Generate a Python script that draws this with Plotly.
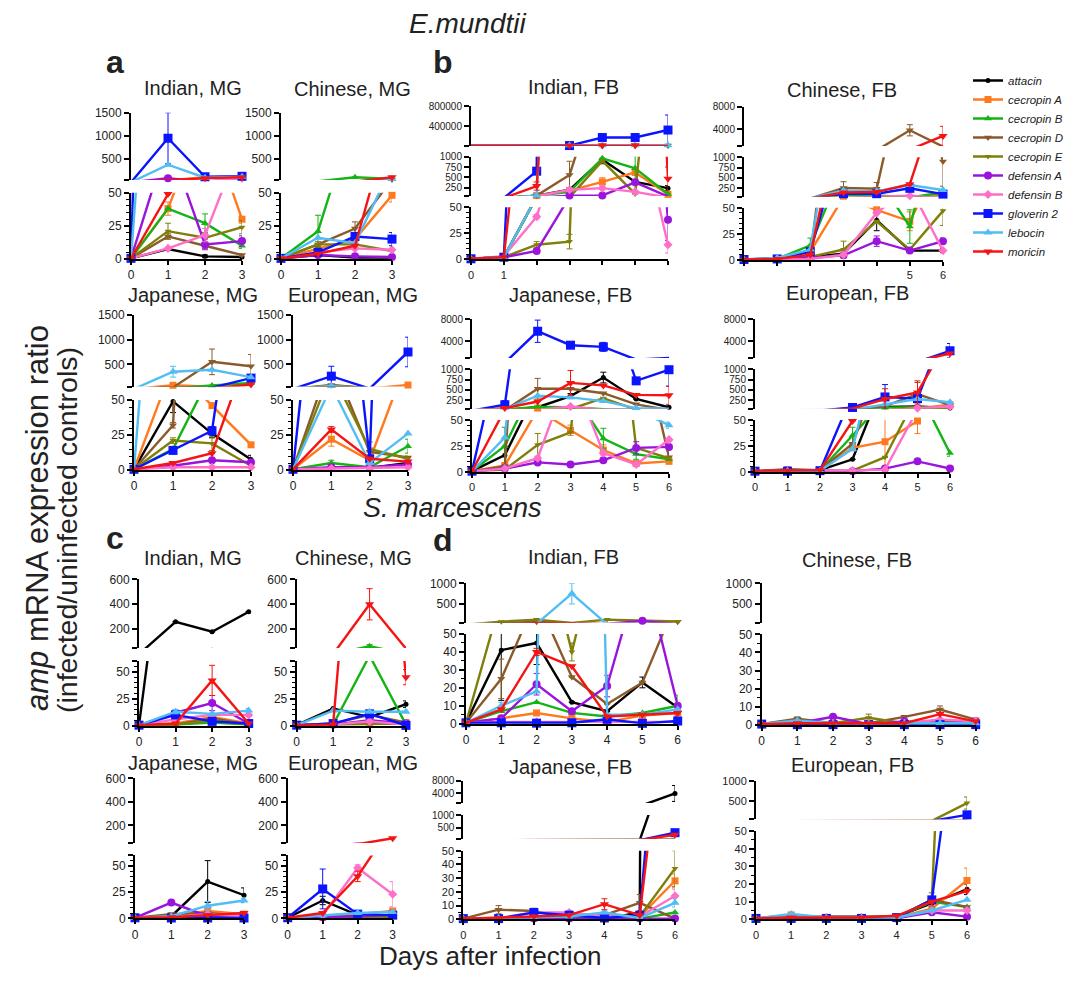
import plotly.graph_objects as go

# the page puts the figure 8 px in from the top-left corner of the window
OFF = 8
FW, FH = 1078 - OFF, 984 - OFF
FONT = "Liberation Sans, Arial, sans-serif"


def fx(px):
    return (px - OFF) / FW


def fy(py):
    return 1 - (py - OFF) / FH


GENES = ["attacin", "cecropin A", "cecropin B", "cecropin D", "cecropin E",
         "defensin A", "defensin B", "gloverin 2", "lebocin", "moricin"]
COLORS = ["#000000", "#FF7A1F", "#14B414", "#8B5A2B", "#7F7F0A",
          "#9A14DC", "#FF6EC8", "#0A14FF", "#52BDF5", "#F51414"]
SYMBOLS = ["circle", "square", "triangle-up", "triangle-down", "triangle-down",
           "circle", "diamond", "square", "triangle-up", "triangle-down"]
MSIZE = [5, 7, 7, 7, 6, 8, 7, 9, 8, 8]

DAYS_MG = [0, 1, 2, 3]
DAYS_FB = [0, 1, 2, 3, 4, 5, 6]

# ---------------- E. mundtii ----------------
EM_IND_MG = [[0.5, 7.5, 2, 1.5], [0.5, 38, 110, 30], [0.5, 38, 27, 10], [0.5, 17, 10, 3],
             [0.5, 21, 16, 24], [0.5, 90, 11, 13.5], [0.5, 8, 18, 90], [0.5, 950, 120, 130],
             [0.5, 380, 100, 120], [0.5, 49, 90, 110]]
EM_IND_MG_ERR = [[0, 1, 1, 0.5], [0, 5, 10, 3], [0, 0, 7, 2], [0, 2, 2, 1], [0, 6, 3, 5],
                 [0, 0, 4, 4], [0, 0, 5, 0], [0, 550, 0, 0], [0, 0, 0, 0], [0, 0, 0, 0]]
EM_CHI_MG = [[0.5, 3, 1, 1], [0.5, 8, 15, 48], [0.5, 21, 110, 75], [0.5, 11, 23, 60],
             [0.5, 11, 11, 6], [0.5, 3, 2, 1.5], [0.5, 5, 8, 7], [0.5, 5, 17, 15],
             [0.5, 16, 12, 70], [0.5, 4, 10, 110]]
EM_CHI_MG_ERR = [[0, 0, 0, 0], [0, 3, 3, 5], [0, 12, 0, 0], [0, 2, 5, 0], [0, 0, 0, 0],
                 [0, 0, 0, 0], [0, 0, 0, 0], [0, 0, 3, 5], [0, 0, 0, 0], [0, 0, 0, 0]]
EM_JAP_MG = [[0.5, 49, 26, 7.5], [0.5, 75, 46, 18], [0.5, 15, 70, 120], [0.5, 32, 550, 460],
             [0.5, 21, 19, 3], [0.5, 3, 7, 5.5], [0.5, 2, 2, 2], [0.5, 14, 28, 220],
             [0.5, 350, 390, 240], [0.5, 5, 12, 90]]
EM_JAP_MG_ERR = [[0, 8, 3, 3], [0, 0, 0, 0], [0, 0, 0, 0], [0, 2, 260, 240], [0, 2, 5, 0],
                 [0, 0, 0, 0], [0, 0, 0, 0], [0, 2, 3, 0], [0, 110, 0, 0], [0, 0, 0, 0]]
EM_EUR_MG = [[0.5, 1.5, 1.5, 5], [0.5, 22, 7, 80], [0.5, 5, 2, 17], [0.5, 80, 13, 9],
             [0.5, 70, 15, 8], [0.5, 2, 2, 4], [0.5, 1, 1, 2], [0.5, 260, 8, 750],
             [0.5, 60, 5, 26], [0.5, 29, 8, 6]]
EM_EUR_MG_ERR = [[0, 0, 0, 0], [0, 5, 0, 0], [0, 2, 0, 5], [0, 0, 0, 0], [0, 0, 5, 2],
                 [0, 0, 0, 0], [0, 0, 0, 0], [0, 200, 0, 300], [0, 0, 0, 0], [0, 2, 0, 0]]

EM_IND_FB = [[0.5, 2, 60, 200, 930, 390, 240], [0.5, 2, 60, 180, 390, 620, 90],
             [0.5, 2, 60, 150, 960, 720, 100], [0.5, 2, 60, 560, 3000, 9000, 10000],
             [0.5, 2, 14, 17, 900, 100, 8000], [0.5, 2, 8, 60, 65, 380, 38],
             [0.5, 3, 41, 200, 240, 150, 14], [0.5, 2, 650, 10000, 170000, 170000, 320000],
             [0.5, 2, 60, 15000, 15000, 15000, 15000], [0.5, 2, 290, 12000, 15000, 15000, 470]]
EM_IND_FB_ERR = [[0, 0, 0, 30, 100, 50, 60], [0, 0, 0, 0, 100, 60, 0], [0, 0, 0, 0, 0, 300, 0],
                 [0, 0, 0, 330, 0, 0, 0], [0, 0, 3, 7, 0, 0, 0], [0, 0, 2, 0, 0, 0, 20],
                 [0, 0, 2, 0, 0, 0, 8], [0, 0, 0, 0, 60000, 70000, 300000],
                 [0, 0, 0, 0, 0, 0, 0], [0, 0, 100, 0, 0, 0, 280]]
EM_CHI_FB = [[0.5, 2, 3, 6, 38, 9, 9], [0.5, 1, 8, 60, 48, 37, 100],
             [0.5, 1, 14, 90, 80, 32, 150], [0.5, 1, 3, 260, 240, 3800, 900],
             [0.5, 1, 3, 10, 37, 10, 47], [0.5, 1, 2, 4.5, 18, 9, 18],
             [0.5, 1, 1, 5, 45, 70, 9], [0.5, 1, 8, 120, 120, 250, 110],
             [0.5, 2, 10, 200, 180, 330, 210], [0.5, 1, 5, 150, 160, 350, 2800]]
EM_CHI_FB_ERR = [[0, 0, 0, 0, 10, 2, 2], [0, 0, 0, 0, 0, 9, 0], [0, 0, 7, 0, 0, 16, 0],
                 [0, 0, 0, 150, 150, 1000, 600], [0, 0, 0, 8, 0, 0, 14], [0, 0, 0, 0, 5, 0, 3],
                 [0, 0, 0, 0, 0, 0, 0], [0, 0, 0, 0, 0, 60, 0], [0, 0, 0, 0, 0, 0, 0],
                 [0, 0, 0, 0, 0, 0, 1700]]
EM_JAP_FB = [[0.5, 16, 80, 350, 800, 280, 80], [0.5, 6, 60, 40, 21, 8, 10],
             [0.5, 25, 90, 80, 32, 17, 12], [0.5, 5, 530, 530, 420, 150, 14],
             [0.5, 2, 26, 38, 300, 23, 13], [0.5, 3, 9, 7, 11, 23, 24],
             [0.5, 3, 13, 100, 18, 7, 31], [0.5, 140, 5800, 3300, 3000, 720, 990],
             [0.5, 33, 360, 320, 230, 60, 45], [0.5, 60, 220, 670, 610, 380, 370]]
EM_JAP_FB_ERR = [[0, 8, 0, 60, 130, 0, 0], [0, 2, 0, 5, 5, 0, 2], [0, 18, 0, 0, 10, 5, 0],
                 [0, 0, 250, 0, 0, 0, 0], [0, 0, 11, 0, 0, 0, 0], [0, 0, 2, 2, 0, 6, 0],
                 [0, 0, 0, 0, 0, 0, 0], [0, 100, 2000, 0, 800, 0, 400], [0, 0, 0, 0, 0, 0, 3],
                 [0, 0, 0, 300, 0, 0, 220]]
EM_EUR_FB = [[0.5, 1.5, 1.5, 12, 90, 100, 60], [0.5, 2, 1, 23, 29, 49, 140],
             [0.5, 1, 1, 35, 70, 80, 18], [0.5, 2.5, 1.5, 27, 110, 400, 130],
             [0.5, 1, 1, 1, 14, 75, 60], [0.5, 1, 1, 0.5, 3, 10, 3],
             [0.5, 1, 1, 1, 2, 60, 100], [0.5, 0.5, 1, 75, 330, 290, 2300],
             [0.5, 1, 1, 22, 150, 280, 200], [0.5, 1, 1.5, 49, 280, 440, 1800]]
EM_EUR_FB_ERR = [[0, 0, 0, 0, 0, 0, 0], [0, 0, 0, 0, 29, 12, 0], [0, 0, 0, 8, 0, 0, 3],
                 [0, 0, 0, 0, 0, 280, 0], [0, 0, 0, 0, 0, 0, 0], [0, 0, 0, 0, 0, 0, 0],
                 [0, 0, 0, 0, 0, 0, 0], [0, 0, 0, 0, 300, 0, 1300], [0, 0, 0, 0, 0, 0, 0],
                 [0, 0, 0, 0, 250, 280, 0]]

# ---------------- S. marcescens ----------------
SM_IND_MG = [[0.5, 260, 180, 340], [0.5, 2, 8, 2], [0.5, 1, 3, 1], [0.5, 1, 7, 1],
             [0.5, 1, 5, 1], [0.5, 12, 21, 2], [0.5, 6, 10, 10], [0.5, 10, 4, 2],
             [0.5, 13, 11, 14], [0.5, 2, 42, 2]]
SM_IND_MG_ERR = [[0, 0, 0, 0], [0, 0, 0, 0], [0, 0, 0, 0], [0, 0, 0, 0], [0, 0, 0, 0],
                 [0, 2, 7, 0], [0, 0, 0, 0], [0, 0, 0, 0], [0, 2, 0, 2], [0, 0, 14, 0]]
SM_CHI_MG = [[0.5, 16, 8, 20], [0.5, 1, 3, 3], [0.5, 1, 65, 1], [0.5, 2, 10, 3],
             [0.5, 1, 2, 2], [0.5, 1, 5, 2], [0.5, 1, 4, 1], [0.5, 2, 11, 0.3],
             [0.5, 14, 13, 13], [0.5, 1, 400, 45]]
SM_CHI_MG_ERR = [[0, 0, 0, 3], [0, 0, 0, 0], [0, 0, 12, 0], [0, 0, 0, 0], [0, 0, 0, 0],
                 [0, 0, 0, 0], [0, 0, 0, 0], [0, 0, 2, 0], [0, 0, 0, 0], [0, 0, 125, 7]]
SM_JAP_MG = [[0.5, 2, 35, 22], [0.5, 2, 7, 4], [0.5, 1, 1, 1], [0.5, 4, 5, 2],
             [0.5, 2, 3, 2], [0.5, 15, 2, 1], [0.5, 1, 4, 2], [0.5, 0.3, 0.3, 0.3],
             [0.5, 2, 12, 17], [0.5, 1, 3, 5]]
SM_JAP_MG_ERR = [[0, 0, 20, 7], [0, 0, 2, 0], [0, 0, 0, 0], [0, 0, 0, 0], [0, 0, 0, 0],
                 [0, 2, 0, 0], [0, 0, 0, 0], [0, 0, 0, 0], [0, 0, 4, 2], [0, 0, 0, 0]]
SM_EUR_MG = [[0.5, 17, 3, 3], [0.5, 1, 4, 7], [0.5, 0.5, 1, 1], [0.5, 1, 2, 3],
             [0.5, 1, 2, 2], [0.5, 1, 2, 3], [0.5, 3, 48, 23], [0.5, 28, 4, 3],
             [0.5, 3, 5, 6], [0.5, 5, 40, 90]]
SM_EUR_MG_ERR = [[0, 4, 0, 0], [0, 0, 0, 0], [0, 0, 0, 0], [0, 0, 0, 0], [0, 0, 0, 0],
                 [0, 0, 0, 0], [0, 0, 3, 12], [0, 19, 2, 0], [0, 0, 0, 0], [0, 0, 5, 0]]

SM_IND_FB = [[0.5, 41, 45, 12, 7, 23, 9], [0.5, 3, 6, 3, 1, 4.5, 6],
             [0.5, 7, 12, 6, 4, 6, 10], [0.5, 25, 70, 26, 11, 23, 70],
             [0.5, 70, 120, 40, 120, 90, 75], [0.5, 3, 22, 7, 21, 90, 10],
             [0.5, 1, 1, 1, 1, 1, 1], [0.5, 0.5, 0.3, 0.5, 2.5, 0.2, 1.5],
             [0.5, 10, 18, 750, 5, 5, 8], [0.5, 8, 40, 32, 4, 5, 6]]
SM_IND_FB_ERR = [[0, 28, 12, 0, 0, 3, 2], [0, 0, 0, 0, 0, 0, 0], [0, 0, 0, 0, 0, 0, 6],
                 [0, 11, 0, 0, 0, 0, 0], [0, 0, 0, 5, 0, 0, 0], [0, 0, 6, 0, 6, 0, 0],
                 [0, 0, 0, 0, 0, 0, 0], [0, 0, 0, 0, 0, 0, 0], [0, 2, 0, 250, 0, 0, 0],
                 [0, 0, 2, 0, 0, 0, 0]]
SM_CHI_FB = [[0.5, 0.3, 0.3, 0.3, 0.3, 0.3, 0.3], [0.5, 1, 1, 1, 1, 1, 1],
             [0.5, 1, 1, 1, 1, 1, 1], [0.5, 3.5, 1, 1, 4.5, 8.5, 3],
             [0.5, 1, 1, 4, 1, 2, 2], [0.5, 1, 4.5, 0.5, 2, 1, 2],
             [0.5, 1, 1, 1, 1, 3, 2], [0.5, 0.2, 0.2, 0.2, 0.2, 0.2, 0.2],
             [0.5, 2.5, 1, 1, 1, 1, 1], [0.5, 1, 1, 1, 1, 6, 2]]
SM_CHI_FB_ERR = [[0, 0, 0, 0, 0, 0, 0], [0, 0, 0, 0, 0, 0, 0], [0, 0, 0, 0, 0, 0, 0],
                 [0, 1, 0, 0, 0, 2, 0], [0, 0, 0, 2, 0, 0, 0], [0, 0, 0, 0, 0, 0, 0],
                 [0, 0, 0, 0, 0, 0, 0], [0, 0, 0, 0, 0, 0, 0], [0, 0, 0, 0, 0, 0, 0],
                 [0, 0, 0, 0, 0, 0, 0]]
SM_JAP_FB = [[0.5, 0.3, 0.3, 0.3, 0.3, 5, 4000], [0.5, 1, 1, 1, 3, 2, 28],
             [0.5, 0.5, 0.5, 0.5, 0.5, 0.5, 5], [0.5, 7, 6, 1, 3, 12, 0.5],
             [0.5, 1, 1, 1, 2, 2, 37], [0.5, 0.5, 0.5, 0.5, 0.5, 0.5, 0.5],
             [0.5, 1, 5, 5, 2, 2, 17], [0.5, 0.5, 5, 3, 1, 3, 300],
             [0.5, 1, 1, 2, 5, 1, 12], [0.5, 1, 2, 3, 11, 3, 220]]
SM_JAP_FB_ERR = [[0, 0, 0, 0, 0, 0, 2500], [0, 0, 0, 0, 0, 0, 5], [0, 0, 0, 0, 0, 0, 0],
                 [0, 3, 2, 0, 0, 6, 0], [0, 0, 0, 0, 0, 0, 13], [0, 0, 0, 0, 0, 0, 0],
                 [0, 0, 0, 1, 0, 0, 5], [0, 0, 0, 0, 0, 0, 0], [0, 0, 0, 0, 1, 0, 3],
                 [0, 0, 0, 0, 4, 0, 0]]
SM_EUR_FB = [[0.5, 1, 1.5, 1.5, 1.5, 9, 17], [0.5, 2.5, 1, 1, 1, 6, 22],
             [0.5, 1, 1, 1, 1, 10, 7], [0.5, 2, 1, 1, 1, 11, 7],
             [0.5, 1.5, 1, 1, 1, 11, 450], [0.5, 0.5, 0.5, 0.5, 0.5, 4, 1.5],
             [0.5, 1, 1, 1, 1, 5, 5], [0.5, 0.5, 0.5, 0.5, 1, 11, 160],
             [0.5, 3, 1, 1, 1, 5, 11], [0.5, 1, 1, 1, 2, 10, 16]]
SM_EUR_FB_ERR = [[0, 0, 0, 0, 0, 0, 3], [0, 0, 0, 0, 0, 0, 7], [0, 0, 0, 0, 0, 0, 0],
                 [0, 0, 0, 0, 0, 4, 0], [0, 0, 0, 0, 0, 0, 150], [0, 0, 0, 0, 0, 0, 0],
                 [0, 0, 0, 0, 0, 0, 0], [0, 0, 0, 0, 0, 0, 30], [0, 0, 0, 0, 0, 0, 0],
                 [0, 0, 0, 0, 0, 0, 0]]

# ---------------- axis tick sets ----------------
T_MG_TOP = ([50, 500, 1000, 1500], ["", "500", "1000", "1500"])
T_50 = ([0, 25, 50], ["0", "25", "50"])
T_IND_TOP = ([1000, 400000, 800000], ["", "400000", "800000"])
T_FB_MID = ([50, 250, 500, 750, 1000], ["", "250", "500", "750", "1000"])
T_FB_TOP = ([1000, 4000, 8000], ["", "4000", "8000"])
T_C_TOP = ([50, 200, 400, 600], ["", "200", "400", "600"])
T_C_BOT = ([0, 25, 50, 60], ["0", "25", "50", ""])
T_D_TOP = ([50, 500, 1000], ["", "500", "1000"])
T_D_BOT = ([0, 10, 20, 30, 40, 50], ["0", "10", "20", "30", "40", "50"])

MG_X = ([0, 1, 2, 3], ["0", "1", "2", "3"])
FB_X = ([0, 1, 2, 3, 4, 5, 6], ["0", "1", "2", "3", "4", "5", "6"])
FB_X01 = ([0, 1, 2, 3, 4, 5, 6], ["0", "1", "", "", "", "", ""])
FB_X56 = ([0, 1, 2, 3, 4, 5, 6], ["", "", "", "", "", "5", "6"])

# segments: (lo, hi, top_px, bottom_px, ticks, minor_dtick, tick_font)
PANELS = [
    dict(d=EM_IND_MG, e=EM_IND_MG_ERR, days=DAYS_MG, t="Indian, MG", tp=(193, 88), xp=(131, 242), xt=MG_X, xf=12,
         segs=[(50, 1500, 112.7, 180, T_MG_TOP, None, 12), (0, 50, 192.7, 259, T_50, 5, 12)]),
    dict(d=EM_CHI_MG, e=EM_CHI_MG_ERR, days=DAYS_MG, t="Chinese, MG", tp=(352, 89), xp=(281, 392), xt=MG_X, xf=12,
         segs=[(50, 1500, 112.7, 180, T_MG_TOP, None, 12), (0, 50, 192.7, 259, T_50, 5, 12)]),
    dict(d=EM_JAP_MG, e=EM_JAP_MG_ERR, days=DAYS_MG, t="Japanese, MG", tp=(193, 295), xp=(134, 251), xt=MG_X, xf=12,
         segs=[(50, 1500, 315, 386.5, T_MG_TOP, None, 12), (0, 50, 400, 470, T_50, 5, 12)]),
    dict(d=EM_EUR_MG, e=EM_EUR_MG_ERR, days=DAYS_MG, t="European, MG", tp=(353, 295), xp=(293, 408), xt=MG_X, xf=12,
         segs=[(50, 1500, 315, 386.5, T_MG_TOP, None, 12), (0, 50, 400, 470, T_50, 5, 12)]),
    dict(d=EM_IND_FB, e=EM_IND_FB_ERR, days=DAYS_FB, t="Indian, FB", tp=(573, 87), xp=(471, 668), xt=FB_X01, xf=11,
         segs=[(1000, 800000, 106, 146, T_IND_TOP, None, 10), (50, 1000, 156.7, 196, T_FB_MID, None, 10),
               (0, 50, 207.3, 259.3, T_50, 5, 11)]),
    dict(d=EM_CHI_FB, e=EM_CHI_FB_ERR, days=DAYS_FB, t="Chinese, FB", tp=(842, 90), xp=(744, 943), xt=FB_X56, xf=11,
         segs=[(1000, 8000, 106.7, 146, T_FB_TOP, None, 10), (50, 1000, 157.3, 196.6, T_FB_MID, None, 10),
               (0, 50, 207.7, 260, T_50, 5, 11)]),
    dict(d=EM_JAP_FB, e=EM_JAP_FB_ERR, days=DAYS_FB, t="Japanese, FB", tp=(570, 295), xp=(472, 669), xt=FB_X, xf=11,
         segs=[(1000, 8000, 319, 358, T_FB_TOP, None, 10), (50, 1000, 369.3, 408.5, T_FB_MID, None, 10),
               (0, 50, 420, 471.7, T_50, 5, 11)]),
    dict(d=EM_EUR_FB, e=EM_EUR_FB_ERR, days=DAYS_FB, t="European, FB", tp=(847, 293), xp=(755, 950), xt=FB_X, xf=11,
         segs=[(1000, 8000, 319, 358, T_FB_TOP, None, 10), (50, 1000, 369.3, 408.5, T_FB_MID, None, 10),
               (0, 50, 420, 471.7, T_50, 5, 11)]),
    dict(d=SM_IND_MG, e=SM_IND_MG_ERR, days=DAYS_MG, t="Indian, MG", tp=(193, 558), xp=(139, 248.7), xt=MG_X, xf=12,
         segs=[(50, 600, 579.3, 648, T_C_TOP, None, 12), (0, 60, 661, 725.7, T_C_BOT, 5, 12)]),
    dict(d=SM_CHI_MG, e=SM_CHI_MG_ERR, days=DAYS_MG, t="Chinese, MG", tp=(353, 558), xp=(296.7, 406), xt=MG_X, xf=12,
         segs=[(50, 600, 579.3, 648, T_C_TOP, None, 12), (0, 60, 661, 725.7, T_C_BOT, 5, 12)]),
    dict(d=SM_JAP_MG, e=SM_JAP_MG_ERR, days=DAYS_MG, t="Japanese, MG", tp=(193, 763), xp=(135, 244), xt=MG_X, xf=12,
         segs=[(50, 600, 778.3, 843, T_C_TOP, None, 12), (0, 60, 855.4, 918.3, T_C_BOT, 5, 12)]),
    dict(d=SM_EUR_MG, e=SM_EUR_MG_ERR, days=DAYS_MG, t="European, MG", tp=(353, 763), xp=(287.7, 392.7), xt=MG_X, xf=12,
         segs=[(50, 600, 778.3, 843, T_C_TOP, None, 12), (0, 60, 855.4, 918.3, T_C_BOT, 5, 12)]),
    dict(d=SM_IND_FB, e=SM_IND_FB_ERR, days=DAYS_FB, t="Indian, FB", tp=(573, 557), xp=(466, 677.7), xt=FB_X, xf=12,
         segs=[(50, 1000, 583.3, 622.5, T_D_TOP, None, 12), (0, 50, 634, 723.7, T_D_BOT, 5, 12)]),
    dict(d=SM_CHI_FB, e=SM_CHI_FB_ERR, days=DAYS_FB, t="Chinese, FB", tp=(857, 560), xp=(761.7, 975.7), xt=FB_X, xf=12,
         segs=[(50, 1000, 583.3, 622.5, T_D_TOP, None, 12), (0, 50, 634.3, 725, T_D_BOT, 5, 12)]),
    dict(d=SM_JAP_FB, e=SM_JAP_FB_ERR, days=DAYS_FB, t="Japanese, FB", tp=(570, 767), xp=(463.3, 675), xt=FB_X, xf=11,
         segs=[(1000, 8000, 780.7, 803, T_FB_TOP, None, 10), (50, 1000, 815, 839, T_D_TOP, None, 10),
               (0, 50, 850.7, 919.3, T_D_BOT, 5, 11)]),
    dict(d=SM_EUR_FB, e=SM_EUR_FB_ERR, days=DAYS_FB, t="European, FB", tp=(852, 765), xp=(756, 967), xt=FB_X, xf=11,
         segs=[(50, 1000, 780.7, 819.3, T_D_TOP, None, 11), (0, 50, 831, 919.3, T_D_BOT, 5, 11)]),
]

fig = go.Figure()
layout = {}
yc = 0
for pi, P in enumerate(PANELS):
    xnum = pi + 1
    xname = "x" if xnum == 1 else f"x{xnum}"
    xkey = "xaxis" if xnum == 1 else f"xaxis{xnum}"
    ids = []
    for _ in P["segs"]:
        yc += 1
        ids.append(yc)
    bottom = ids[-1]
    days = P["days"]
    layout[xkey] = dict(domain=[fx(P["xp"][0]), fx(P["xp"][1])], range=[0, days[-1]],
                        anchor=f"y{bottom}" if bottom > 1 else "y",
                        showline=True, linecolor="black", linewidth=2, ticks="outside",
                        ticklen=4, tickwidth=1.5, tickcolor="black", showgrid=False, zeroline=False,
                        tickmode="array", tickvals=P["xt"][0], ticktext=P["xt"][1],
                        tickfont=dict(size=P["xf"], family=FONT, color="#222"), automargin=False)
    for (lo, hi, top, bot, ticks, minor, tf), yid in zip(P["segs"], ids):
        yname = "y" if yid == 1 else f"y{yid}"
        ykey = "yaxis" if yid == 1 else f"yaxis{yid}"
        ya = dict(domain=[fy(bot), fy(top)], range=[lo, hi], anchor=xname,
                  showline=True, linecolor="black", linewidth=2, ticks="outside",
                  ticklen=5, tickwidth=1.5, tickcolor="black", showgrid=False, zeroline=False,
                  tickmode="array", tickvals=ticks[0], ticktext=ticks[1],
                  tickfont=dict(size=tf, family=FONT, color="#222"), automargin=False)
        if minor:
            ya["minor"] = dict(ticks="outside", ticklen=3, tickwidth=1, tickcolor="black",
                               dtick=minor, tick0=0, showgrid=False)
        layout[ykey] = ya
        for g in range(len(GENES)):
            vals = P["d"][g]
            errs = P["e"][g]
            inr = [lo <= v <= hi for v in vals]
            fig.add_trace(go.Scatter(
                x=days, y=vals, xaxis=xname, yaxis=yname, mode="lines+markers",
                line=dict(color=COLORS[g], width=2.4),
                marker=dict(symbol=SYMBOLS[g], size=MSIZE[g], color=COLORS[g],
                            opacity=[1 if f else 0 for f in inr]),
                error_y=dict(type="data", array=[(e if (f and e) else None) for e, f in zip(errs, inr)],
                             visible=True, color=COLORS[g], thickness=1, width=3),
                cliponaxis=False, showlegend=False, hoverinfo="skip"))

for g in range(len(GENES)):
    fig.add_trace(go.Scatter(x=[None], y=[None], mode="lines+markers", name=f"<i>{GENES[g]}</i>",
                             line=dict(color=COLORS[g], width=2.5),
                             marker=dict(symbol=SYMBOLS[g], size=MSIZE[g], color=COLORS[g]),
                             showlegend=True))

ann = []
for P in PANELS:
    ann.append(dict(text=P["t"], x=fx(P["tp"][0]), y=fy(P["tp"][1]), xref="paper", yref="paper",
                    showarrow=False, xanchor="center", yanchor="middle",
                    font=dict(size=20, family=FONT, color="#222")))


def add_text(txt, xp, yp, size, bold=False, angle=0):
    ann.append(dict(text=(f"<b>{txt}</b>" if bold else txt), x=fx(xp), y=fy(yp),
                    xref="paper", yref="paper", showarrow=False, xanchor="center",
                    yanchor="middle", textangle=angle,
                    font=dict(size=size, family=FONT, color="#222")))


add_text("a", 115, 61.5, 32, bold=True)
add_text("b", 443, 61.5, 32, bold=True)
add_text("c", 115, 538, 32, bold=True)
add_text("d", 443, 540, 32, bold=True)
add_text("<i>E.mundtii</i>", 467, 23, 28)
add_text("<i>S. marcescens</i>", 452, 508, 27)
add_text("Days after infection", 490, 956, 26)
add_text("<i>amp</i> mRNA expression ratio", 37, 518, 31, angle=-90)
add_text("(infected/uninfected controls)", 67, 530, 28.5, angle=-90)

fig.update_layout(
    width=FW, height=FH, autosize=False,
    margin=dict(l=0, r=0, t=0, b=0, pad=0, autoexpand=False),
    paper_bgcolor="white", plot_bgcolor="white",
    font=dict(family=FONT, color="#222"),
    showlegend=True,
    legend=dict(x=fx(968), y=fy(66), xanchor="left", yanchor="top",
                font=dict(size=11.5, family=FONT, color="#222"), bgcolor="rgba(0,0,0,0)",
                itemwidth=30, tracegroupgap=0),
    annotations=ann,
    **layout,
)

fig.write_html("out.html")
